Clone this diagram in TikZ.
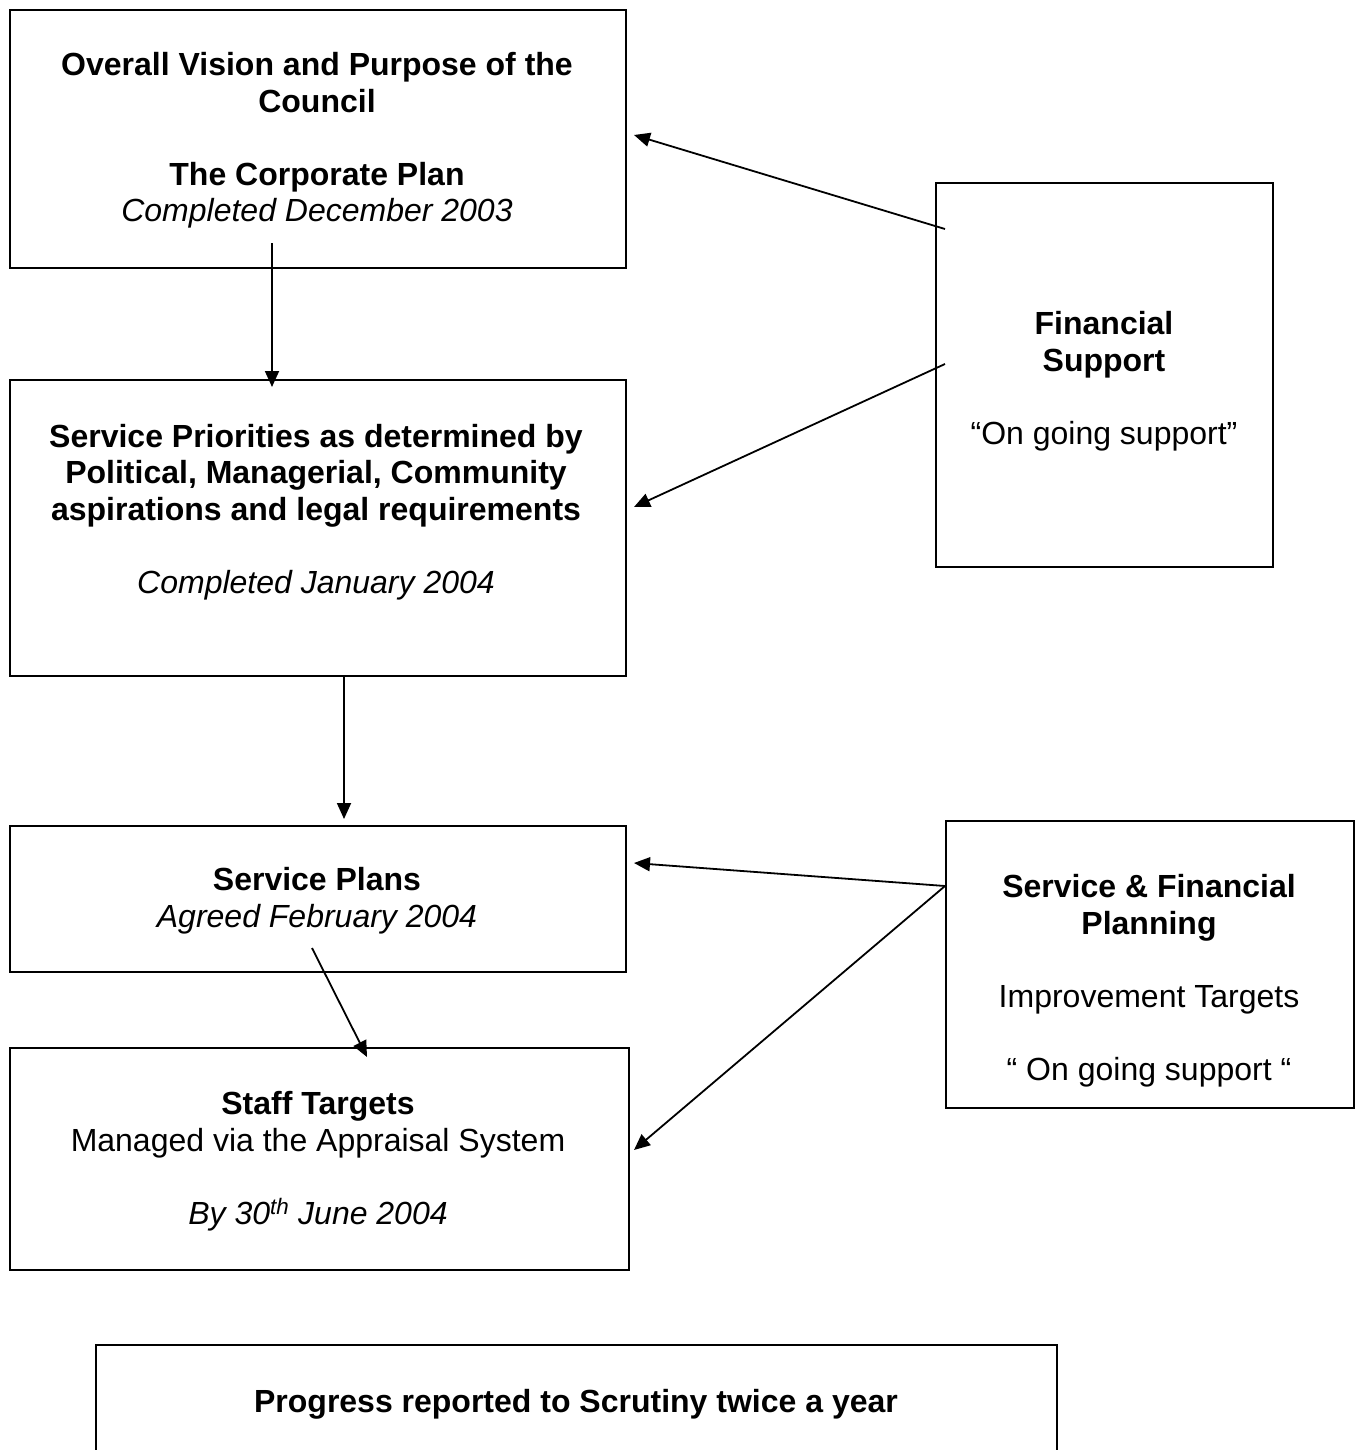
\documentclass[tikz,border=0pt]{standalone}
\usepackage{fontspec}
\setmainfont{Liberation Sans}
\usetikzlibrary{arrows.meta}
\begin{document}
\begin{tikzpicture}[x=1pt,y=-1pt,
  box/.style={draw,line width=2pt,anchor=north west,inner sep=0pt},
  txt/.style={align=center,anchor=base,inner sep=0pt,font=\fontsize{32}{36.5}\selectfont},
  conn/.style={line width=1.8pt,-{Triangle[length=16pt,width=14pt]}}]
\useasboundingbox (0,0) rectangle (1359,1450);
% boxes
\node[box,minimum width=616pt,minimum height=258pt] (vision) at (9,9) {};
\node[box,minimum width=616pt,minimum height=296pt] (prior) at (9,379) {};
\node[box,minimum width=616pt,minimum height=146pt] (plans) at (9,825) {};
\node[box,minimum width=619pt,minimum height=222pt] (staff) at (9,1047) {};
\node[box,minimum width=337pt,minimum height=384pt] (fin) at (935,182) {};
\node[box,minimum width=408pt,minimum height=287pt] (sfp) at (945,820) {};
\node[box,minimum width=961pt,minimum height=160pt] (prog) at (95,1344) {};
% texts (anchored at the baseline of their last line)
\node[txt] (visionT) at (317,222) {\textbf{Overall Vision and Purpose of the}\\\textbf{Council}\\[36.5pt]\textbf{The Corporate Plan}\\\textit{Completed December 2003}};
\node[txt] (priorT) at (316,593) {\textbf{Service Priorities as determined by}\\\textbf{Political, Managerial, Community}\\\textbf{aspirations and legal requirements}\\[36.5pt]\textit{Completed January 2004}};
\node[txt] (plansT) at (317,927) {\textbf{Service Plans}\\\textit{Agreed February 2004}};
\node[txt] (staffT) at (318,1224) {\textbf{Staff Targets}\\Managed via the Appraisal System\\[36.5pt]\textit{By 30\textsuperscript{th} June 2004}};
\node[txt] (finT) at (1104,444) {\textbf{Financial}\\\textbf{Support}\\[36.5pt]“On going support”};
\node[txt] (sfpT) at (1149,1080) {\textbf{Service \& Financial}\\\textbf{Planning}\\[36.5pt]Improvement Targets\\[36.5pt]“ On going support “};
\node[txt] (progT) at (576,1412) {\textbf{Progress reported to Scrutiny twice a year}};
% connector end points
\coordinate (a1s) at (945,229); \coordinate (a1e) at (634,135);
\coordinate (a2s) at (945,364); \coordinate (a2e) at (634,507);
\coordinate (a3s) at (272,243); \coordinate (a3e) at (272,387);
\coordinate (a4s) at (344,675); \coordinate (a4e) at (344,819);
\coordinate (a5s) at (312,948); \coordinate (a5e) at (367,1057);
\coordinate (a6s) at (945,886); \coordinate (a6e) at (634,863);
\coordinate (a7e) at (634,1150);
% connectors
\draw[conn] (a1s) -- (a1e);
\draw[conn] (a2s) -- (a2e);
\draw[conn] (a3s) -- (a3e);
\draw[conn] (a4s) -- (a4e);
\draw[conn] (a5s) -- (a5e);
\draw[conn] (a6s) -- (a6e);
\draw[conn] (a6s) -- (a7e);
\end{tikzpicture}
\end{document}
